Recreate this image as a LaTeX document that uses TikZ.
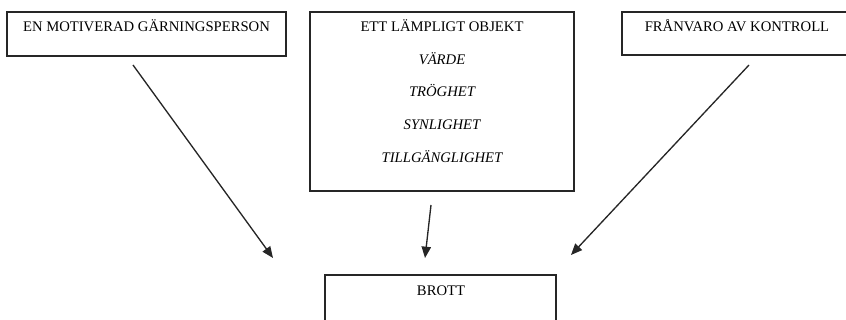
\documentclass[tikz,border=0pt]{standalone}
\usepackage{fontspec}
\setmainfont{Liberation Serif}
\usetikzlibrary{fit,arrows.meta}
\begin{document}
\begin{tikzpicture}[x=0.75pt,y=-0.75pt,
  box/.style={draw=black!85, line width=1.2pt, inner sep=0pt, rectangle},
  lbl/.style={anchor=base, inner sep=0pt, font=\fontsize{11}{13}\selectfont},
  ilbl/.style={lbl, font=\fontsize{11}{13}\selectfont\itshape},
  conn/.style={draw=black!85, line width=1pt, -{Triangle[length=8.5pt,width=7pt]}}]
\useasboundingbox (0,0) rectangle (846,320);
% boxes
\node[box, fit={(7,12) (286,56)}] (motiv) {};
\node[box, fit={(310,12) (574,191)}] (objekt) {};
\node[box, fit={(622,12) (852,55)}] (kontroll) {};
\node[box, fit={(325,275) (556,340)}] (brott) {};
% texts
\node[lbl] (tmotiv) at (146.5,32) {EN MOTIVERAD GÄRNINGSPERSON};
\node[lbl] (tobjekt) at (442,32) {ETT LÄMPLIGT OBJEKT};
\node[ilbl] (tvarde) at (442,65) {VÄRDE};
\node[ilbl] (ttroghet) at (442,97) {TRÖGHET};
\node[ilbl] (tsynlighet) at (442,130) {SYNLIGHET};
\node[ilbl] (ttillg) at (442,163) {TILLGÄNGLIGHET};
\node[lbl] (tkontroll) at (737,32) {FRÅNVARO AV KONTROLL};
\node[lbl] (tbrott) at (441,296) {BROTT};
% arrow ends
\coordinate (a1s) at (133,65);
\coordinate (a1e) at (273,258);
\coordinate (a2s) at (431,205);
\coordinate (a2e) at (425,258);
\coordinate (a3s) at (749,65);
\coordinate (a3e) at (571,255);
\draw[conn] (a1s) -- (a1e);
\draw[conn] (a2s) -- (a2e);
\draw[conn] (a3s) -- (a3e);
\end{tikzpicture}
\end{document}
